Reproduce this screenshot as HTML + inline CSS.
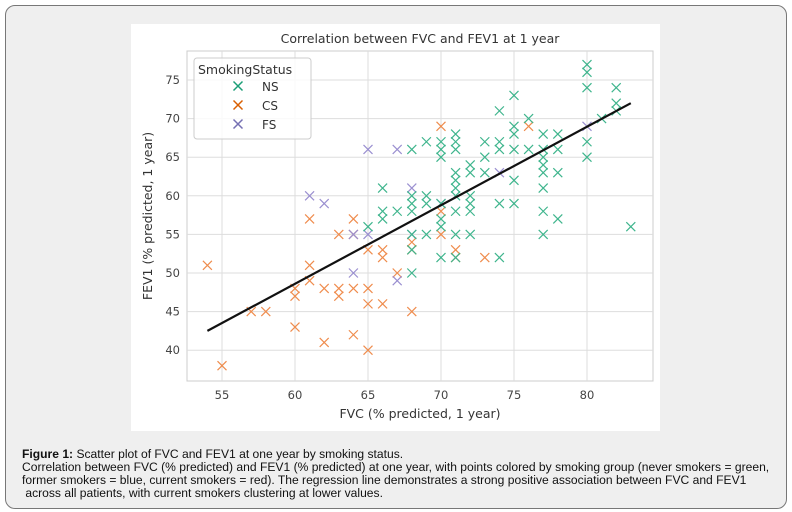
<!DOCTYPE html><html><head><style>
body{margin:0;background:#fff;font-family:"Liberation Sans",sans-serif;}
.frame{position:absolute;left:5px;top:5px;width:780px;height:502px;border:1px solid #777;border-radius:10px;background:#efefef;}
.cap{position:absolute;left:22px;top:448px;width:760px;font-size:12.1px;line-height:13px;color:#111;white-space:nowrap;}
</style></head><body>
<div class="frame"></div>
<svg width="792" height="512" style="position:absolute;left:0;top:0;font-family:'DejaVu Sans',sans-serif" id="s"></svg>
<div class="cap"><b>Figure 1:</b> Scatter plot of FVC and FEV1 at one year by smoking status.<br>Correlation between FVC (% predicted) and FEV1 (% predicted) at one year, with points colored by smoking group (never smokers = green,<br>former smokers = blue, current smokers = red). The regression line demonstrates a strong positive association between FVC and FEV1<br>&nbsp;across all patients, with current smokers clustering at lower values.</div>
<script>
const s=document.getElementById('s');let h='';
const X=v=>222+(v-55)*14.6,Y=v=>80+(75-v)*7.72;
h+='<rect x="131" y="24" width="529" height="407" fill="#fff"/>';
h+='<rect x="187" y="51" width="466" height="330" fill="#fff" stroke="#ccc"/>';
for(let v=55;v<=80;v+=5){h+=`<line x1="${X(v)}" x2="${X(v)}" y1="51" y2="381" stroke="#ddd"/><text x="${X(v)}" y="399" font-size="11.5" fill="#444" text-anchor="middle">${v}</text>`;}
for(let v=40;v<=75;v+=5){h+=`<line y1="${Y(v)}" y2="${Y(v)}" x1="187" x2="653" stroke="#ddd"/><text x="180" y="${Y(v)+4}" font-size="11.5" fill="#444" text-anchor="end">${v}</text>`;}
h+='<text x="420" y="43" font-size="12.5" fill="#333" text-anchor="middle">Correlation between FVC and FEV1 at 1 year</text>';
h+='<text x="420" y="418" font-size="12.5" fill="#333" text-anchor="middle">FVC (% predicted, 1 year)</text>';
h+='<text transform="translate(152,216) rotate(-90)" font-size="12.5" fill="#333" text-anchor="middle">FEV1 (% predicted, 1 year)</text>';
const mk=(x,y,c)=>{const r=4.5;return `<path d="M${x-r} ${y-r}L${x+r} ${y+r}M${x-r} ${y+r}L${x+r} ${y-r}" stroke="${c}" stroke-width="1.2" fill="none"/>`;};
const O=[[54,51],[55,38],[57,45],[58,45],[60,43],[60,47],[60,48],[61,49],[61,51],[61,57],[62,41],[62,48],[63,47],[63,48],[64,42],[64,48],[64,55],[64,57],[65,40],[65,46],[65,48],[65,53],[66,46],[66,52],[66,53],[67,50],[68,45],[68,54],[70,69],[70,58],[70,55],[71,52],[71,53],[73,52],[76,69],[63,55],[68,53]];
const P=[[61,60],[62,59],[64,50],[64,55],[65,55],[65,66],[67,66],[67,49],[68,61],[68,55],[70,59],[74,63],[80,69]];
const G=[[65,56],[66,61],[66,58],[66,57],[67,58],[68,66],[68,60],[68,59],[68,58],[68,55],[68,53],[68,50],[69,60],[69,59],[69,67],[69,55],[70,67],[70,66],[70,65],[70,56],[70,57],[70,52],[70,59],[71,68],[71,67],[71,66],[71,63],[71,62],[71,61],[71,60],[71,58],[71,55],[71,52],[72,64],[72,63],[72,60],[72,59],[72,58],[72,55],[73,67],[73,65],[73,63],[74,71],[74,67],[74,66],[74,59],[74,52],[75,73],[75,69],[75,68],[75,66],[75,62],[75,59],[76,70],[76,66],[77,68],[77,66],[77,65],[77,64],[77,63],[77,61],[77,58],[77,55],[78,68],[78,66],[78,63],[78,57],[80,77],[80,76],[80,74],[80,67],[80,65],[81,70],[82,74],[82,72],[82,71],[83,56]];
O.forEach(p=>h+=mk(X(p[0]),Y(p[1]),'#ef8c4d'));
P.forEach(p=>h+=mk(X(p[0]),Y(p[1]),'#9a8fd0'));
G.forEach(p=>h+=mk(X(p[0]),Y(p[1]),'#3fb58d'));
h+=`<line x1="${X(54)}" y1="${Y(42.5)}" x2="${X(83)}" y2="${Y(72)}" stroke="#111" stroke-width="2.2"/>`;
h+='<rect x="194" y="58" width="117" height="81" rx="3" fill="#fff" fill-opacity="0.85" stroke="#ccc"/>';
h+='<text x="198" y="74" font-size="12.5" fill="#333">SmokingStatus</text>';
[['NS','#1b9e77',90],['CS','#d95f02',109],['FS','#7570b3',128]].forEach(a=>{h+=mk(238,a[2]-4,a[1]).replace('1.2','1.5');h+=`<text x="262" y="${a[2]+1}" font-size="12" fill="#333">${a[0]}</text>`;});
s.innerHTML=h;
</script></body></html>
